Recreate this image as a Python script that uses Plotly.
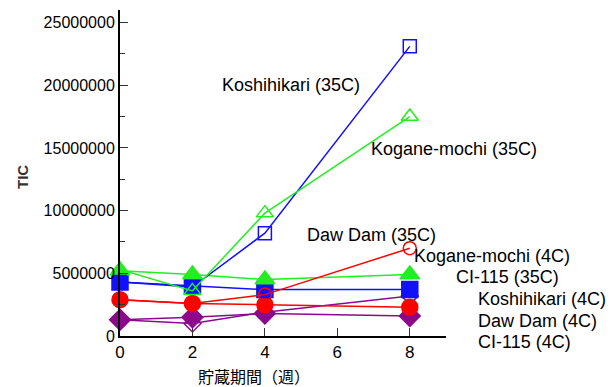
import plotly.graph_objects as go

weeks = [0, 2, 4, 8]

koshihikari_35 = [4300000, 3900000, 8200000, 23100000]
koshihikari_4 = [4300000, 4000000, 3700000, 3700000]
kogane_35 = [5300000, 3600000, 9800000, 17500000]
kogane_4 = [5200000, 4900000, 4500000, 4900000]
dawdam_35 = [2900000, 2600000, 3300000, 7000000]
dawdam_4 = [2900000, 2600000, 2500000, 2300000]
ci115_35 = [1300000, 1000000, 1900000, 3200000]
ci115_4 = [1300000, 1500000, 1800000, 1600000]

y_ticks = [0, 5000000, 10000000, 15000000, 20000000, 25000000]
x_ticks = [0, 2, 4, 6, 8]

label_texts = ["Koshihikari (35C)", "Kogane-mochi (35C)", "Daw Dam (35C)",
               "Kogane-mochi (4C)", "CI-115 (35C)", "Koshihikari (4C)",
               "Daw Dam (4C)", "CI-115 (4C)"]
label_pos = [(220, 85), (369, 149), (305, 235), (412, 256), (454, 277),
             (476, 299), (476, 321), (476, 342)]

BLUE = "#1010ff"
GREEN = "#22ee22"
RED = "#ff0000"
PURPLE = "#8b0a8b"

series = [
    (ci115_4, PURPLE, "diamond", 16, "CI-115 (4C)"),
    (ci115_35, PURPLE, "diamond-open", 13, "CI-115 (35C)"),
    (dawdam_4, RED, "circle", 16, "Daw Dam (4C)"),
    (koshihikari_4, BLUE, "square", 16, "Koshihikari (4C)"),
    (kogane_4, GREEN, "triangle-up", 17, "Kogane-mochi (4C)"),
    (dawdam_35, RED, "circle-open", 13, "Daw Dam (35C)"),
    (koshihikari_35, BLUE, "square-open", 13, "Koshihikari (35C)"),
    (kogane_35, GREEN, "triangle-up-open", 15, "Kogane-mochi (35C)"),
]

fig = go.Figure()
for vals, col, sym, sz, name in series:
    fig.add_trace(go.Scatter(
        x=weeks, y=vals, mode="lines+markers", name=name,
        line=dict(color=col, width=1.5),
        marker=dict(symbol=sym, size=sz, color=col,
                    line=dict(color=col, width=1.5)),
        cliponaxis=False, showlegend=False))

# page body has an 8px default margin
OX, OY = 8, 8
L, R, T, B = 120, 446, 10, 336
W, H = 614 - OX, 387 - OY
pw, ph = R - L, B - T

def px(xp):
    return (xp - L) / pw

def py(yp):
    return (B - yp) / ph

anns = []
for txt, (xx, yy) in zip(label_texts, label_pos):
    anns.append(dict(text=txt, x=px(xx), y=py(yy), xref="paper", yref="paper",
                     xanchor="left", yanchor="middle", showarrow=False,
                     font=dict(size=18, color="black",
                               family="Liberation Sans, Arial, sans-serif")))
anns.append(dict(text="<b>TIC</b>", x=px(23), y=py(177), xref="paper", yref="paper",
                 xanchor="center", yanchor="middle", textangle=-90, showarrow=False,
                 font=dict(size=15, color="#333", family="Liberation Sans Narrow, Liberation Sans, sans-serif")))
anns.append(dict(text="貯蔵期間（週）", x=px(254), y=py(376), xref="paper", yref="paper",
                 xanchor="center", yanchor="middle", showarrow=False,
                 font=dict(size=16, color="black", family="Noto Sans CJK JP, sans-serif")))

fig.update_layout(
    width=W, height=H,
    margin=dict(l=L - OX, r=614 - R, t=T - OY, b=387 - B, pad=0),
    paper_bgcolor="white", plot_bgcolor="white",
    annotations=anns,
    font=dict(family="Liberation Sans, Arial, sans-serif", color="black"),
)
fig.update_xaxes(
    range=[0, 9], tickvals=x_ticks, ticks="inside", ticklen=8, tickwidth=1,
    tickcolor="#333", showline=True, linecolor="black", linewidth=2,
    showgrid=False, zeroline=False, tickfont=dict(size=17),
)
fig.update_yaxes(
    range=[0, 26000000], tickvals=y_ticks, ticktext=[str(v) for v in y_ticks],
    ticks="inside", ticklen=8, tickwidth=1, tickcolor="#333",
    minor=dict(dtick=2500000, tick0=0, ticks="inside", ticklen=5, tickcolor="#333", showgrid=False),
    showline=True, linecolor="black", linewidth=2,
    showgrid=False, zeroline=False, tickfont=dict(size=16),
)

fig.write_html("out.html")
